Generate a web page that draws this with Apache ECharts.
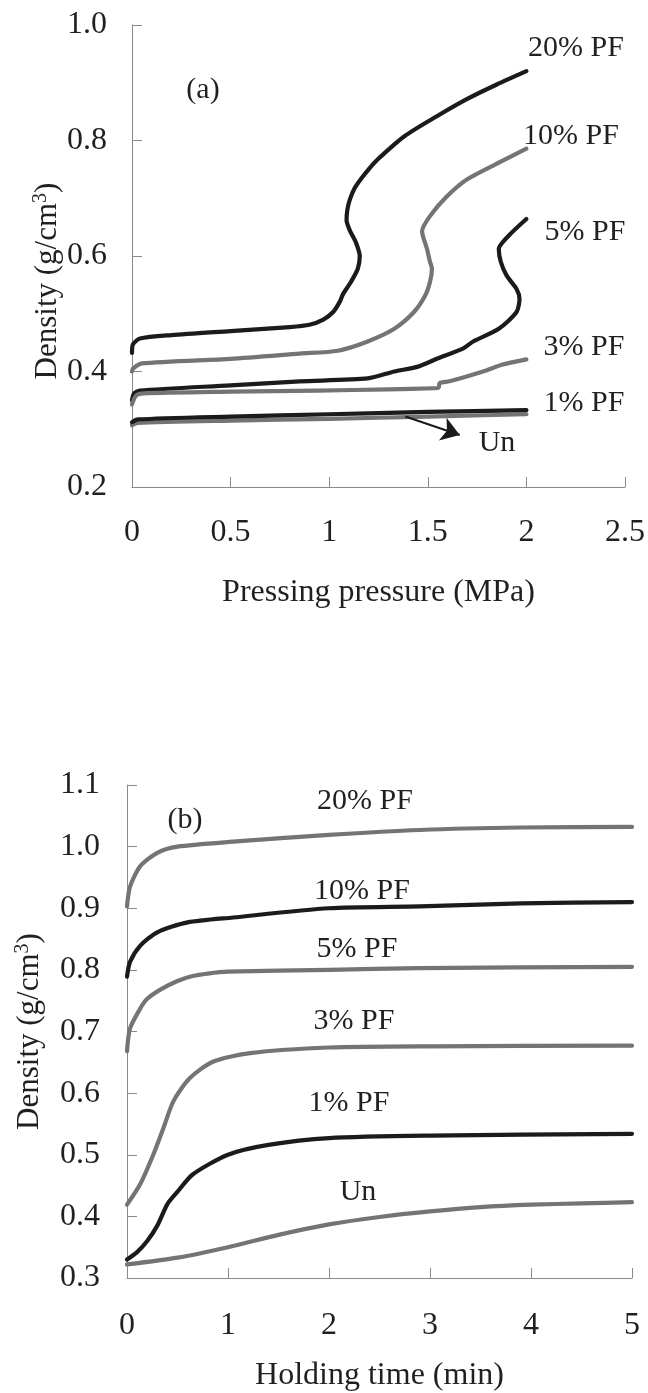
<!DOCTYPE html>
<html>
<head>
<meta charset="utf-8">
<script src="https://cdn.jsdelivr.net/npm/echarts@6/dist/echarts.min.js"></script>
<style>
  html, body { margin: 0; padding: 0; background: #fff; }
  #chart { width: 648px; height: 1393px; }
</style>
</head>
<body>
<div id="chart"></div>
<script>
// (a) density vs pressing pressure, [MPa, g/cm3]
const pressPF20 = [[0,0.432],[0.005,0.447],[0.04,0.457],[0.2,0.463],[0.5,0.470],[0.8,0.477],[0.9,0.481],[0.97,0.490],[1.02,0.503],[1.054,0.521],[1.07,0.534],[1.11,0.555],[1.145,0.578],[1.155,0.600],[1.135,0.624],[1.105,0.644],[1.088,0.662],[1.092,0.680],[1.105,0.698],[1.13,0.718],[1.16,0.733],[1.20,0.750],[1.245,0.767],[1.38,0.807],[1.546,0.842],[1.70,0.872],[1.85,0.897],[2.0,0.920]];
const pressPF10 = [[0,0.400],[0.005,0.405],[0.05,0.414],[0.5,0.422],[0.85,0.431],[1.044,0.436],[1.195,0.452],[1.33,0.474],[1.43,0.503],[1.486,0.531],[1.511,0.555],[1.521,0.578],[1.511,0.590],[1.496,0.612],[1.471,0.643],[1.511,0.669],[1.596,0.703],[1.70,0.733],[1.88,0.765],[2.0,0.786]];
const pressPF5 = [[0,0.350],[0.01,0.362],[0.04,0.367],[0.5,0.376],[0.85,0.383],[1.195,0.388],[1.33,0.400],[1.446,0.408],[1.546,0.422],[1.68,0.440],[1.73,0.452],[1.86,0.474],[1.95,0.503],[1.965,0.526],[1.95,0.543],[1.90,0.566],[1.87,0.590],[1.86,0.612],[1.91,0.635],[2.0,0.664]];
const pressPF3 = [[0,0.343],[0.02,0.358],[0.06,0.362],[0.5,0.365],[0.94,0.367],[1.3,0.369],[1.53,0.371],[1.555,0.372],[1.56,0.380],[1.61,0.383],[1.78,0.400],[1.88,0.412],[2.0,0.421]];
const pressPF1 = [[0,0.312],[0.03,0.317],[0.5,0.322],[1.0,0.326],[1.5,0.330],[2.0,0.333]];
const pressUn = [[0,0.307],[0.03,0.311],[0.5,0.315],[1.0,0.318],[1.5,0.322],[2.0,0.326]];
// arrow pointing from the "Un" curve to its label
const unArrowFrom = [1.386, 0.322];
const unArrowTo = [1.662, 0.290];

// (b) density vs holding time, [min, g/cm3]
const holdPF20 = [[0,0.903],[0.03,0.935],[0.13,0.968],[0.3,0.990],[0.5,1.000],[1.05,1.008],[2.0,1.019],[2.9,1.027],[3.9,1.031],[5.0,1.032]];
const holdPF10 = [[0,0.789],[0.03,0.813],[0.13,0.839],[0.3,0.861],[0.6,0.877],[1.05,0.885],[2.0,0.900],[2.9,0.903],[3.9,0.908],[5.0,0.910]];
const holdPF5 = [[0,0.668],[0.03,0.705],[0.13,0.737],[0.2,0.753],[0.33,0.768],[0.5,0.782],[0.65,0.790],[0.8,0.794],[1.0,0.797],[2.0,0.800],[2.9,0.803],[5.0,0.805]];
const holdPF3 = [[0,0.419],[0.13,0.452],[0.26,0.500],[0.36,0.543],[0.46,0.587],[0.62,0.624],[0.85,0.651],[1.22,0.665],[2.0,0.674],[3.0,0.676],[5.0,0.677]];
const holdPF1 = [[0,0.330],[0.1,0.342],[0.2,0.360],[0.3,0.385],[0.4,0.420],[0.5,0.440],[0.65,0.468],[1.0,0.500],[1.4,0.516],[2.0,0.527],[3.0,0.531],[5.0,0.534]];
const holdUn = [[0,0.322],[0.5,0.333],[1.0,0.350],[1.5,0.370],[2.0,0.387],[2.5,0.399],[3.0,0.408],[3.5,0.415],[4.0,0.419],[4.5,0.421],[5.0,0.423]];

// axis ranges and titles
const pressRange = { min: 0, max: 2.5, interval: 0.5 };
const pressDensityRange = { min: 0.2, max: 1.0, interval: 0.2 };
const holdRange = { min: 0, max: 5, interval: 1 };
const holdDensityRange = { min: 0.3, max: 1.1, interval: 0.1 };
const pressTitle = 'Pressing pressure (MPa)';
const holdTitle = 'Holding time (min)';
const densityTitle = 'Density (g/cm{sup|3})';

const FONT = '"Liberation Serif", "Times New Roman", serif';
const BLACK = '#1c1a1b';
const GREY = '#747476';
const TEXT = '#231f20';
const AXIS = '#8a8a8a';

const supStyle = { fontFamily: FONT, fontSize: 20, fill: TEXT, color: TEXT, verticalAlign: 'top', padding: [0, 0, 14, 0] };

function curve(name, data, color, xi, z) {
  return {
    name: name, type: 'line', data: data,
    xAxisIndex: xi, yAxisIndex: xi,
    showSymbol: false, smooth: 0.25, z: z || 2,
    lineStyle: { color: color, width: 4.2, cap: 'round', join: 'round' },
    silent: true, animation: false
  };
}

function xAxisOf(range, title, gi, nameGap, margin) {
  return {
    type: 'value', gridIndex: gi, min: range.min, max: range.max, interval: range.interval,
    name: title, nameLocation: 'middle', nameGap: nameGap,
    nameTextStyle: { fontFamily: FONT, fontSize: 32, color: TEXT },
    axisLine: { show: true, lineStyle: { color: AXIS, width: 1 } },
    axisTick: { show: true, inside: true, length: 10, lineStyle: { color: AXIS, width: 1 } },
    axisLabel: { fontFamily: FONT, fontSize: 32, color: TEXT, margin: margin },
    splitLine: { show: false }
  };
}

function yAxisOf(range, gi, title, nameGap, margin) {
  return {
    type: 'value', gridIndex: gi, min: range.min, max: range.max, interval: range.interval,
    name: title, nameLocation: 'middle', nameGap: nameGap, nameRotate: 90,
    nameTextStyle: {
      fontFamily: FONT, fontSize: 31, color: TEXT,
      rich: { sup: supStyle }
    },
    axisLine: { show: true, lineStyle: { color: AXIS, width: 1 } },
    axisTick: { show: true, inside: true, length: 10, lineStyle: { color: AXIS, width: 1 } },
    axisLabel: { fontFamily: FONT, fontSize: 32, color: TEXT, margin: margin, formatter: v => v.toFixed(1) },
    splitLine: { show: false }
  };
}

function label(text, cx, cy) {
  return {
    type: 'text', x: cx, y: cy, silent: true,
    style: { text: text, fontFamily: FONT, fontSize: 30, fill: TEXT, align: 'center', verticalAlign: 'middle' }
  };
}

const chart = echarts.init(document.getElementById('chart'), null, { renderer: 'canvas' });

const unA = curve('Un', pressUn, GREY, 0, 2);
unA.markLine = {
  silent: true, symbol: ['none', 'arrow'], symbolSize: 18, animation: false,
  label: { show: false },
  lineStyle: { color: BLACK, width: 2, type: 'solid' },
  data: [[{ coord: unArrowFrom }, { coord: unArrowTo }]]
};

chart.setOption({
  backgroundColor: '#ffffff',
  animation: false,
  grid: [
    { left: 132, width: 498, top: 25, height: 462 },
    { left: 127, width: 505, top: 785, height: 496 }
  ],
  xAxis: [
    xAxisOf(pressRange, pressTitle, 0, 90, 30),
    xAxisOf(holdRange, holdTitle, 1, 82, 32)
  ],
  yAxis: [
    yAxisOf(pressDensityRange, 0, '', 0, 25),
    yAxisOf(holdDensityRange, 1, densityTitle, 80, 27)
  ],
  series: [
    curve('20% PF', pressPF20, BLACK, 0),
    curve('10% PF', pressPF10, GREY, 0),
    curve('5% PF', pressPF5, BLACK, 0),
    curve('3% PF', pressPF3, GREY, 0),
    unA,
    curve('1% PF', pressPF1, BLACK, 0, 3),
    curve('20% PF', holdPF20, GREY, 1),
    curve('10% PF', holdPF10, BLACK, 1),
    curve('5% PF', holdPF5, GREY, 1),
    curve('3% PF', holdPF3, GREY, 1),
    curve('1% PF', holdPF1, BLACK, 1),
    curve('Un', holdUn, GREY, 1)
  ],
  graphic: [
    {
      type: 'text', x: 48, y: 281, rotation: Math.PI / 2, silent: true,
      style: {
        text: densityTitle, fontFamily: FONT, fontSize: 31, fill: TEXT,
        align: 'center', verticalAlign: 'middle', rich: { sup: supStyle }
      }
    },
    label('(a)', 203, 90),
    label('20% PF', 576, 48),
    label('10% PF', 571, 136),
    label('5% PF', 585, 232),
    label('3% PF', 584, 347),
    label('1% PF', 584, 403),
    label('Un', 497, 443),
    label('(b)', 185, 820),
    label('20% PF', 365, 801),
    label('10% PF', 362, 891),
    label('5% PF', 357, 949),
    label('3% PF', 354, 1021),
    label('1% PF', 349, 1103),
    label('Un', 358, 1192)
  ]
});
</script>
</body>
</html>
